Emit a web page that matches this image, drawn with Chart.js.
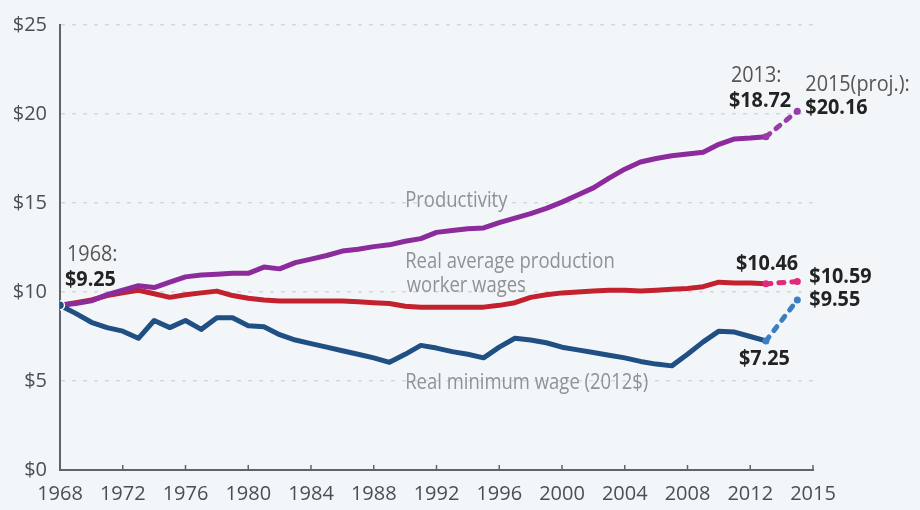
<!DOCTYPE html>
<html>
<head>
<meta charset="utf-8">
<script src="https://cdn.jsdelivr.net/npm/chart.js@4.4.1/dist/chart.umd.min.js"></script>
<style>
  html, body { margin: 0; padding: 0; background: #f3f6f9; }
  #wrap { width: 920px; height: 510px; }
</style>
</head>
<body>
<div id="wrap"><canvas id="chart"></canvas></div>
<script>
const years = [
  1968, 1969, 1970, 1971, 1972, 1973, 1974, 1975, 1976, 1977,
  1978, 1979, 1980, 1981, 1982, 1983, 1984, 1985, 1986, 1987,
  1988, 1989, 1990, 1991, 1992, 1993, 1994, 1995, 1996, 1997,
  1998, 1999, 2000, 2001, 2002, 2003, 2004, 2005, 2006, 2007,
  2008, 2009, 2010, 2011, 2012, 2013
];

const productivity = [
  9.25, 9.35, 9.5, 9.85, 10.1, 10.35, 10.25, 10.55, 10.85, 10.95,
  11.0, 11.05, 11.05, 11.4, 11.3, 11.65, 11.85, 12.05, 12.3, 12.4,
  12.55, 12.65, 12.85, 13.0, 13.35, 13.45, 13.55, 13.6, 13.9, 14.15,
  14.4, 14.7, 15.05, 15.45, 15.85, 16.4, 16.9, 17.3, 17.5, 17.65,
  17.75, 17.85, 18.3, 18.6, 18.65, 18.72
];

const workerWages = [
  9.25, 9.4, 9.55, 9.8, 9.95, 10.1, 9.9, 9.7, 9.85, 9.95,
  10.05, 9.8, 9.65, 9.55, 9.5, 9.5, 9.5, 9.5, 9.5, 9.45,
  9.4, 9.35, 9.2, 9.15, 9.15, 9.15, 9.15, 9.15, 9.25, 9.4,
  9.7, 9.85, 9.95, 10.0, 10.05, 10.1, 10.1, 10.05, 10.1, 10.15,
  10.2, 10.3, 10.55, 10.5, 10.5, 10.46
];

const minWage = [
  9.25, 8.8, 8.3, 8.0, 7.8, 7.4, 8.4, 8.0, 8.4, 7.9,
  8.55, 8.55, 8.1, 8.05, 7.6, 7.3, 7.1, 6.9, 6.7, 6.5,
  6.3, 6.05, 6.5, 7.0, 6.85, 6.65, 6.5, 6.3, 6.9, 7.4,
  7.3, 7.15, 6.9, 6.75, 6.6, 6.45, 6.3, 6.1, 5.95, 5.85,
  6.5, 7.2, 7.8, 7.75, 7.5, 7.25
];

const projYears = [2013, 2015];
const productivityProj = [18.72, 20.16];
const workerWagesProj = [10.46, 10.59];
const minWageProj = [7.25, 9.55];

const xTickValues = [1968, 1972, 1976, 1980, 1984, 1988, 1992, 1996, 2000, 2004, 2008, 2012, 2016];
const xTickLabels = ["1968", "1972", "1976", "1980", "1984", "1988", "1992", "1996", "2000", "2004", "2008", "2012", "2015"];

const FONT = "'Open Sans', sans-serif";

function toPoints(xs, ys) {
  return xs.map((x, i) => ({ x: x, y: ys[i] }));
}

function solidLine(label, values, color) {
  return {
    label: label,
    data: toPoints(years, values),
    borderColor: color,
    backgroundColor: color,
    borderWidth: 5,
    borderJoinStyle: "round",
    borderCapStyle: "round",
    tension: 0,
    pointRadius: 0,
  };
}

function projLine(label, values, color) {
  return {
    label: label,
    data: toPoints(projYears, values),
    borderColor: color,
    backgroundColor: color,
    borderWidth: 5,
    borderDash: [5, 8],
    borderCapStyle: "round",
    tension: 0,
    pointRadius: 3.5,
    pointBorderWidth: 0,
  };
}

const minLine = solidLine("Real minimum wage", minWage, "#1f4f83");
minLine.pointRadius = (c) => (c.dataIndex === 0 ? 4.5 : 0);
minLine.pointBorderColor = "#ffffff";
minLine.pointBorderWidth = 1.5;

// annotations and series labels
const textPlugin = {
  id: "texts",
  afterDatasetsDraw(chart) {
    const ctx = chart.ctx;
    const x = chart.scales.x;
    const y = chart.scales.y;
    ctx.save();
    ctx.textBaseline = "middle";
    ctx.textAlign = "left";

    // small tick marks on top of the x axis
    ctx.strokeStyle = "#5f6468";
    ctx.lineWidth = 1.5;
    xTickValues.forEach((v) => {
      const px = x.getPixelForValue(v);
      ctx.beginPath();
      ctx.moveTo(px, y.bottom);
      ctx.lineTo(px, y.bottom - 5);
      ctx.stroke();
    });

    function put(text, px, py, bold, color, size, sx) {
      ctx.save();
      ctx.font = (bold ? "bold " : "") + (size || 22) + "px " + FONT;
      ctx.fillStyle = color;
      ctx.translate(px, py);
      ctx.scale(sx || 0.9, 1);
      ctx.fillText(text, 0, 0);
      ctx.restore();
    }

    // series names
    const grey = "#8d9297";
    put("Productivity", x.getPixelForValue(1990), y.getPixelForValue(15.1), false, grey, 21, 0.88);
    put("Real average production", x.getPixelForValue(1990), y.getPixelForValue(11.7), false, grey, 21, 0.88);
    put("worker wages", x.getPixelForValue(1990.1), y.getPixelForValue(10.35), false, grey, 21, 0.88);
    put("Real minimum wage (2012$)", x.getPixelForValue(1990), y.getPixelForValue(4.9), false, grey, 21, 0.88);

    // value callouts
    const dark = "#222222";
    const mid = "#555555";
    const x68 = x.getPixelForValue(years[0]);
    const y68 = y.getPixelForValue(minWage[0]);
    put("1968:", x68 + 7, y68 - 51, false, mid);
    put("$9.25", x68 + 5, y68 - 26, true, dark);

    const x13 = x.getPixelForValue(projYears[0]);
    const x15 = x.getPixelForValue(projYears[1]);
    const yp13 = y.getPixelForValue(productivityProj[0]);
    const yp15 = y.getPixelForValue(productivityProj[1]);
    put("2013:", x13 - 35, yp13 - 61, false, mid);
    put("$18.72", x13 - 37, yp13 - 36, true, dark);
    put("2015(proj.):", x15 + 8, yp15 - 26, false, mid);
    put("$20.16", x15 + 8, yp15 - 3, true, dark);

    put("$10.46", x13 - 30, y.getPixelForValue(workerWagesProj[0]) - 20, true, dark);
    put("$10.59", x15 + 12, y.getPixelForValue(workerWagesProj[1]) - 5, true, dark);
    put("$9.55", x15 + 12, y.getPixelForValue(minWageProj[1]), true, dark);
    put("$7.25", x13 - 27, y.getPixelForValue(minWageProj[0]) + 18, true, dark);

    ctx.restore();
  },
};

new Chart(document.getElementById("chart"), {
  type: "line",
  data: {
    datasets: [
      projLine("Real minimum wage (proj.)", minWageProj, "#3b7ec2"),
      minLine,
      projLine("Productivity (proj.)", productivityProj, "#9d3aaa"),
      solidLine("Productivity", productivity, "#8c2c9c"),
      projLine("Worker wages (proj.)", workerWagesProj, "#e02a7c"),
      solidLine("Real average production worker wages", workerWages, "#c3212d"),
    ],
  },
  options: {
    responsive: true,
    maintainAspectRatio: false,
    animation: false,
    layout: { padding: { top: 22, right: 107, left: 0, bottom: 0 } },
    plugins: {
      legend: { display: false },
      tooltip: { enabled: false },
    },
    scales: {
      x: {
        type: "linear",
        min: 1968,
        max: 2016,
        afterBuildTicks: (scale) => {
          scale.ticks = xTickValues.map((v) => ({ value: v }));
        },
        afterFit: (scale) => {
          scale.height = 40;
        },
        grid: { display: false, drawTicks: false },
        border: { display: true, color: "#5f6468", width: 2 },
        ticks: {
          autoSkip: false,
          maxRotation: 0,
          padding: 12,
          color: "#4a4f54",
          font: { family: FONT, size: 20 },
          callback: (v, i) => xTickLabels[i],
        },
      },
      y: {
        min: 0,
        max: 25,
        afterFit: (scale) => {
          scale.width = 60;
        },
        grid: {
          color: (c) => (c.tick.value === 0 ? "rgba(0,0,0,0)" : "#d3d8dd"),
          lineWidth: 1.5,
          drawTicks: false,
        },
        border: { display: true, color: "#5f6468", width: 2, dash: [4, 7] },
        ticks: {
          stepSize: 5,
          padding: 13,
          color: "#4a4f54",
          font: { family: FONT, size: 20 },
          callback: (v) => "$" + v,
        },
      },
    },
  },
  plugins: [textPlugin],
});
</script>
</body>
</html>
